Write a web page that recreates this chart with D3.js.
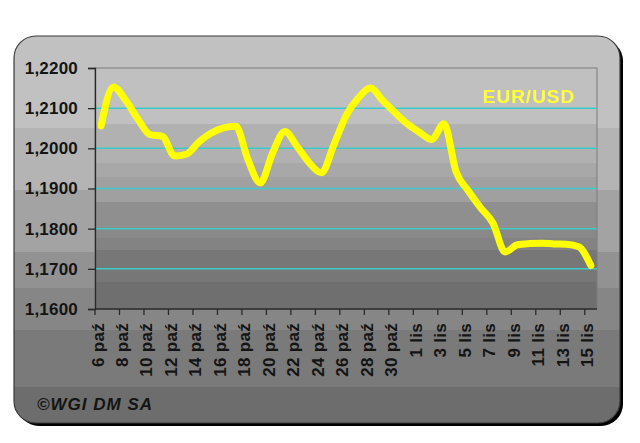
<!DOCTYPE html>
<html>
<head>
<meta charset="utf-8">
<script src="https://cdn.jsdelivr.net/npm/d3@7"></script>
<style>
  body { margin: 0; background: #fff; }
  svg { display: block; }
</style>
</head>
<body>
<svg id="chart" width="640" height="443"></svg>
<script>
// Daily EUR/USD fixings, 6 paź .. 15 lis
const startDay = new Date(2005, 9, 6);
const endDay = new Date(2005, 10, 16);
const rates = [
  1.2056, 1.2153, 1.2120, 1.2073, 1.2034, 1.2030, 1.1981, 1.1986, 1.2016, 1.2038,
  1.2051, 1.2055, 1.1971, 1.1914, 1.1988, 1.2042, 1.2005, 1.1964, 1.1939, 1.2008,
  1.2081, 1.2125, 1.2150, 1.2119, 1.2089, 1.2061, 1.2040, 1.2022, 1.2061, 1.1941,
  1.1894, 1.1852, 1.1814, 1.1742, 1.1760, 1.1763, 1.1764, 1.1762, 1.1761, 1.1755,
  1.1708
];
const xTickLabels = [
  "6 paź", "8 paź", "10 paź", "12 paź", "14 paź", "16 paź", "18 paź", "20 paź",
  "22 paź", "24 paź", "26 paź", "28 paź", "30 paź",
  "1 lis", "3 lis", "5 lis", "7 lis", "9 lis", "11 lis", "13 lis", "15 lis"
];
const yTicks = [1.16, 1.17, 1.18, 1.19, 1.20, 1.21, 1.22];
const gridValues = [1.17, 1.18, 1.19, 1.20, 1.21];
const seriesName = "EUR/USD";
const credit = "©WGI DM SA";

const days = d3.timeDay.range(startDay, endDay);
const data = days.map((d, i) => ({ day: d, value: rates[i] }));

const svg = d3.select("#chart");
const font = "Arial, 'Liberation Sans', sans-serif";

// Panel geometry
const panel = { x: 14, y: 36, w: 606, h: 387, r: 22 };
const plot = { left: 95, right: 597, top: 68, bottom: 309 };

// Stepped grey bands (style only)
const panelBands = [
  [36, "#c1c1c1"], [128, "#b4b4b4"], [190, "#a3a3a3"], [252, "#929292"],
  [288, "#868686"], [330, "#7a7a7a"], [387, "#6d6d6d"], [423, null]
];
const plotBands = [
  [68, "#c0c0c0"], [124, "#b1b1b1"], [163, "#a8a8a8"], [177, "#a0a0a0"],
  [202, "#8f8f8f"], [228, "#898989"], [238, "#838383"], [250, "#777777"],
  [282, "#6f6f6f"], [309, null]
];

const defs = svg.append("defs");
defs.append("clipPath").attr("id", "panel-clip")
  .append("rect")
  .attr("x", panel.x).attr("y", panel.y)
  .attr("width", panel.w).attr("height", panel.h)
  .attr("rx", panel.r);

// Shadow
svg.append("rect")
  .attr("x", panel.x + 3).attr("y", panel.y + 3)
  .attr("width", panel.w).attr("height", panel.h)
  .attr("rx", panel.r)
  .attr("fill", "#000");

const panelG = svg.append("g").attr("clip-path", "url(#panel-clip)");
panelBands.slice(0, -1).forEach(([y0, c], i) => {
  panelG.append("rect")
    .attr("x", panel.x).attr("y", y0)
    .attr("width", panel.w).attr("height", panelBands[i + 1][0] - y0)
    .attr("fill", c);
});
svg.append("rect")
  .attr("x", panel.x).attr("y", panel.y)
  .attr("width", panel.w).attr("height", panel.h)
  .attr("rx", panel.r)
  .attr("fill", "none").attr("stroke", "#3a3a3a").attr("stroke-width", 1.2);

// Plot area bands
plotBands.slice(0, -1).forEach(([y0, c], i) => {
  svg.append("rect")
    .attr("x", plot.left).attr("y", y0)
    .attr("width", plot.right - plot.left).attr("height", plotBands[i + 1][0] - y0)
    .attr("fill", c);
});
svg.append("rect")
  .attr("x", plot.left).attr("y", plot.top)
  .attr("width", plot.right - plot.left).attr("height", plot.bottom - plot.top)
  .attr("fill", "none").attr("stroke", "#7d7d7d").attr("stroke-width", 1);

// Scales
const x = d3.scaleBand().domain(days).range([plot.left, plot.right]).paddingInner(0).paddingOuter(0);
const y = d3.scaleLinear().domain([1.16, 1.22]).range([plot.bottom, plot.top]);
const bw = x.bandwidth();

// Gridlines
svg.append("g")
  .selectAll("line")
  .data(gridValues)
  .join("line")
  .attr("x1", plot.left).attr("x2", plot.right)
  .attr("y1", d => y(d)).attr("y2", d => y(d))
  .attr("stroke", "#3ccaca").attr("stroke-width", 1.5);

// Y axis
const yAxis = svg.append("g")
  .attr("transform", `translate(${plot.left},0)`)
  .call(d3.axisLeft(y).tickValues(yTicks).tickSize(7).tickPadding(10)
    .tickFormat(d => d3.format(".4f")(d).replace(".", ",")));
yAxis.select(".domain").attr("stroke", "#2a2a2a").attr("stroke-width", 1.3);
yAxis.selectAll(".tick line").attr("stroke", "#2a2a2a").attr("stroke-width", 1.3);
yAxis.selectAll(".tick text")
  .attr("font-family", font).attr("font-size", 17).attr("font-weight", "bold")
  .attr("letter-spacing", 0.2).attr("fill", "#141414");

// X axis: ticks at the start of every other day
const tickDays = days.filter((d, i) => i % 2 === 0);
const xAxis = svg.append("g").attr("transform", `translate(0,${plot.bottom})`);
xAxis.append("line")
  .attr("x1", plot.left).attr("x2", plot.right)
  .attr("stroke", "#2a2a2a").attr("stroke-width", 1.3);
const xt = xAxis.selectAll(".xtick")
  .data(tickDays)
  .join("g")
  .attr("class", "xtick")
  .attr("transform", d => `translate(${x(d)},0)`);
xt.append("line").attr("y2", 6).attr("stroke", "#2a2a2a").attr("stroke-width", 1.3);
xt.append("text")
  .attr("transform", "translate(8.5,14) rotate(-90)")
  .attr("text-anchor", "end")
  .attr("font-family", font).attr("font-size", 17).attr("font-weight", "bold")
  .attr("letter-spacing", 0.3).attr("fill", "#141414")
  .text((d, i) => xTickLabels[i]);

// Series line
const line = d3.line()
  .x(d => x(d.day) + bw / 2)
  .y(d => y(d.value))
  .curve(d3.curveMonotoneX);
svg.append("path")
  .datum(data)
  .attr("d", line)
  .attr("fill", "none")
  .attr("stroke", "#ffff00")
  .attr("stroke-width", 7)
  .attr("stroke-linecap", "round")
  .attr("stroke-linejoin", "round");

// Series label
svg.append("text")
  .attr("x", 575).attr("y", 103)
  .attr("text-anchor", "end")
  .attr("font-family", font).attr("font-size", 19).attr("font-weight", "bold")
  .attr("letter-spacing", 1)
  .attr("fill", "#ffff33")
  .text(seriesName);

// Credit
svg.append("text")
  .attr("x", 37).attr("y", 410)
  .attr("font-family", font).attr("font-size", 17).attr("font-weight", "bold")
  .attr("font-style", "italic").attr("letter-spacing", 1)
  .attr("fill", "#141414")
  .text(credit);
</script>
</body>
</html>
